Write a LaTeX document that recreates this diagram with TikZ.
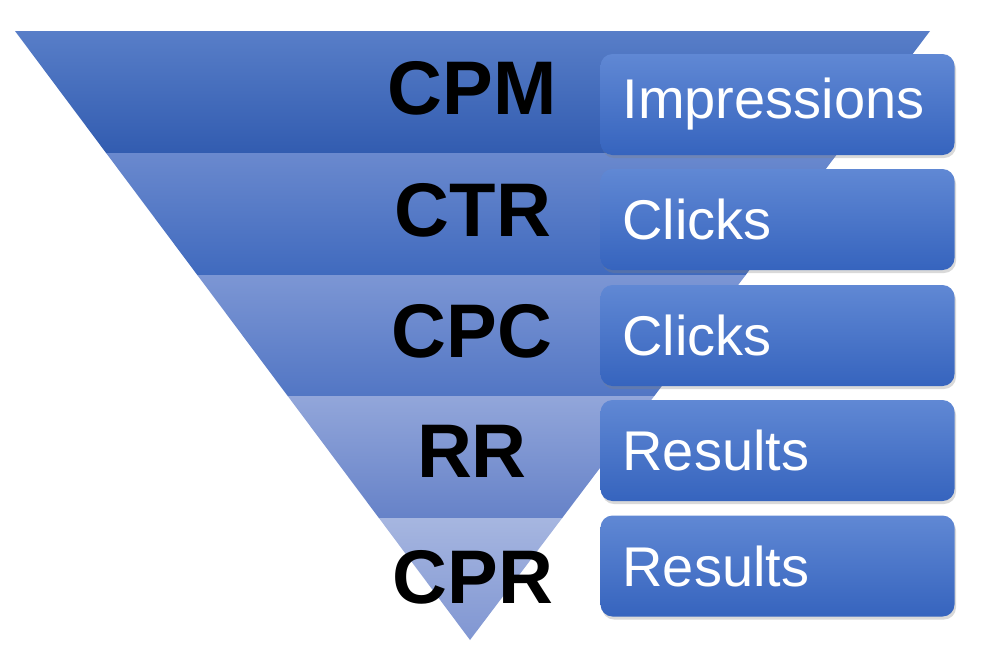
\documentclass[tikz,border=0pt]{standalone}
\usepackage{fontspec}
\setmainfont{Liberation Sans}
\usetikzlibrary{shadows}
\definecolor{bAt}{RGB}{88,126,200}\definecolor{bAb}{RGB}{50,92,176}
\definecolor{bBt}{RGB}{106,137,206}\definecolor{bBb}{RGB}{64,106,190}
\definecolor{bCt}{RGB}{124,150,212}\definecolor{bCb}{RGB}{82,118,196}
\definecolor{bDt}{RGB}{146,166,218}\definecolor{bDb}{RGB}{102,130,200}
\definecolor{bEt}{RGB}{166,182,224}\definecolor{bEb}{RGB}{128,150,210}
\definecolor{boxt}{RGB}{96,136,212}\definecolor{boxb}{RGB}{54,100,190}
\tikzset{
  lbl/.style={font=\bfseries\fontsize{76}{80}\selectfont, text=black, inner sep=0pt},
  infobox/.style={rounded corners=12pt, minimum width=353pt, minimum height=101pt,
    text width=310pt, inner xsep=22pt, align=left, text=white,
    top color=boxt, bottom color=boxb,
    font=\fontsize{56}{60}\selectfont,
    drop shadow={opacity=0.3, shadow xshift=1.5pt, shadow yshift=-3pt}},
}
\begin{document}
\begin{tikzpicture}[x=1pt,y=-1pt]
\useasboundingbox (0,0) rectangle (982,667);
% funnel bands
\shade[top color=bAt, bottom color=bAb] (15,31) -- (930,31) -- (837.9,153) -- (106.1,153) -- cycle;
\shade[top color=bBt, bottom color=bBb] (106.1,153) -- (837.9,153) -- (745.7,275) -- (197.3,275) -- cycle;
\shade[top color=bCt, bottom color=bCb] (197.3,275) -- (745.7,275) -- (654.3,396) -- (287.7,396) -- cycle;
\shade[top color=bDt, bottom color=bDb] (287.7,396) -- (654.3,396) -- (562.2,518) -- (378.9,518) -- cycle;
\shade[top color=bEt, bottom color=bEb] (378.9,518) -- (562.2,518) -- (470,640) -- cycle;
% labels
\node[lbl] (cpm) at (472,88) {CPM};
\node[lbl] (ctr) at (473,210) {CTR};
\node[lbl] (cpc) at (472,331) {CPC};
\node[lbl] (rr)  at (472,451) {RR};
\node[lbl] (cpr) at (473,577) {CPR};
% boxes
\node[infobox] (b1) at (777.5,104.5) {Impressions};
\node[infobox] (b2) at (777.5,219.5) {Clicks};
\node[infobox] (b3) at (777.5,335.5) {Clicks};
\node[infobox] (b4) at (777.5,450.5) {Results};
\node[infobox] (b5) at (777.5,566) {Results};
\end{tikzpicture}
\end{document}
